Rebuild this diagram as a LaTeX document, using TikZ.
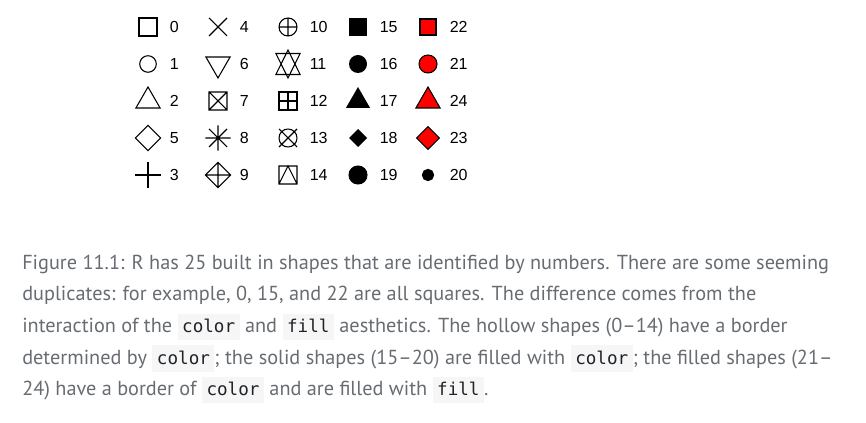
\documentclass[tikz,border=0pt]{standalone}
\usepackage{fontspec}
\usepackage{xcolor}
\usepackage{tikz}
\newfontfamily\labelfont{Liberation Sans}
\newfontfamily\capfont{PT Sans}
\newfontfamily\codefont{DejaVu Sans Mono}
\definecolor{captiongrey}{HTML}{676C72}
\definecolor{codebg}{HTML}{F6F6F6}
\definecolor{codeink}{HTML}{1F2328}
\definecolor{pchred}{HTML}{FF0000}

% inline code chip of the caption
\newcommand{\codebit}[1]{{\setlength{\fboxsep}{0pt}\colorbox{codebg}{\rule[-5.9pt]{0pt}{20pt}\hspace{3.4pt}{\codefont\fontsize{13.2}{13.2}\selectfont\color{codeink}#1}\hspace{3.4pt}}}}

\tikzset{
  pchline/.style={draw=black, line width=0.8pt},
  pchlabel/.style={anchor=west, inner sep=0pt, font=\fontsize{12}{12}\selectfont\labelfont},
  capline/.style={anchor=base west, inner sep=0pt, text=captiongrey, font=\fontsize{15.2}{15.2}\selectfont\capfont},
  % hollow shapes
  pch0/.pic={\draw[pchline] (-9,-9) rectangle (9,9);},
  pch1/.pic={\draw[pchline] (0,0) circle (8.3);},
  pch2/.pic={\draw[pchline] (0,-14) -- (12.1,7) -- (-12.1,7) -- cycle;},
  pch3/.pic={\draw[pchline] (-12.7,0) -- (12.7,0) (0,-12.7) -- (0,12.7);},
  pch4/.pic={\draw[pchline] (-9,-9) -- (9,9) (-9,9) -- (9,-9);},
  pch5/.pic={\draw[pchline] (-12.7,0) -- (0,-12.7) -- (12.7,0) -- (0,12.7) -- cycle;},
  pch6/.pic={\draw[pchline] (0,14) -- (12.1,-7) -- (-12.1,-7) -- cycle;},
  pch7/.pic={\draw[pchline] (-9,-9) rectangle (9,9) (-9,-9) -- (9,9) (-9,9) -- (9,-9);},
  pch8/.pic={\draw[pchline] (-9,-9) -- (9,9) (-9,9) -- (9,-9) (-12.7,0) -- (12.7,0) (0,-12.7) -- (0,12.7);},
  pch9/.pic={\draw[pchline] (-12.7,0) -- (0,-12.7) -- (12.7,0) -- (0,12.7) -- cycle (-12.7,0) -- (12.7,0) (0,-12.7) -- (0,12.7);},
  pch10/.pic={\draw[pchline] (0,0) circle (9) (-9,0) -- (9,0) (0,-9) -- (0,9);},
  pch11/.pic={\draw[pchline] (0,14) -- (12.1,-10.5) -- (-12.1,-10.5) -- cycle (0,-14) -- (12.1,10.5) -- (-12.1,10.5) -- cycle;},
  pch12/.pic={\draw[pchline] (-9,-9) rectangle (9,9) (-9,0) -- (9,0) (0,-9) -- (0,9);},
  pch13/.pic={\draw[pchline] (0,0) circle (9) (-9,-9) -- (9,9) (-9,9) -- (9,-9);},
  pch14/.pic={\draw[pchline] (-9,-9) rectangle (9,9) (-9,9) -- (0,-9) -- (9,9);},
  % solid shapes
  pch15/.pic={\fill (-9,-9) rectangle (9,9);},
  pch16/.pic={\fill (0,0) circle (9);},
  pch17/.pic={\fill (0,-14) -- (12.1,7) -- (-12.1,7) -- cycle;},
  pch18/.pic={\fill (-9,0) -- (0,-9) -- (9,0) -- (0,9) -- cycle;},
  pch19/.pic={\filldraw[pchline] (0,0) circle (9);},
  pch20/.pic={\filldraw[pchline] (0,0) circle (5.6);},
  % filled shapes
  pch21/.pic={\draw[pchline, fill=pchred] (0,0) circle (9);},
  pch22/.pic={\draw[pchline, fill=pchred] (-8,-8) rectangle (8,8);},
  pch23/.pic={\draw[pchline, fill=pchred] (-11.3,0) -- (0,-11.3) -- (11.3,0) -- (0,11.3) -- cycle;},
  pch24/.pic={\draw[pchline, fill=pchred] (0,-14) -- (12.1,7) -- (-12.1,7) -- cycle;},
}

\begin{document}
\begin{tikzpicture}[x=0.75pt, y=-0.75pt]
  \useasboundingbox (0,0) rectangle (866,423);

  % first column
  \pic at (148,27) {pch0};   \node[pchlabel] (lab0) at (169.5,27) {0};
  \pic at (148,64) {pch1};   \node[pchlabel] (lab1) at (169.5,64) {1};
  \pic at (148,101) {pch2};  \node[pchlabel] (lab2) at (169.5,101) {2};
  \pic at (148,138) {pch5};  \node[pchlabel] (lab5) at (169.5,138) {5};
  \pic at (148,175) {pch3};  \node[pchlabel] (lab3) at (169.5,175) {3};

  % second column
  \pic at (218,27) {pch4};   \node[pchlabel] (lab4) at (239.5,27) {4};
  \pic at (218,64) {pch6};   \node[pchlabel] (lab6) at (239.5,64) {6};
  \pic at (218,101) {pch7};  \node[pchlabel] (lab7) at (239.5,101) {7};
  \pic at (218,138) {pch8};  \node[pchlabel] (lab8) at (239.5,138) {8};
  \pic at (218,175) {pch9};  \node[pchlabel] (lab9) at (239.5,175) {9};

  % third column
  \pic at (288,27) {pch10};  \node[pchlabel] (lab10) at (309.5,27) {10};
  \pic at (288,64) {pch11};  \node[pchlabel] (lab11) at (309.5,64) {11};
  \pic at (288,101) {pch12}; \node[pchlabel] (lab12) at (309.5,101) {12};
  \pic at (288,138) {pch13}; \node[pchlabel] (lab13) at (309.5,138) {13};
  \pic at (288,175) {pch14}; \node[pchlabel] (lab14) at (309.5,175) {14};

  % fourth column
  \pic at (358,27) {pch15};  \node[pchlabel] (lab15) at (379.5,27) {15};
  \pic at (358,64) {pch16};  \node[pchlabel] (lab16) at (379.5,64) {16};
  \pic at (358,101) {pch17}; \node[pchlabel] (lab17) at (379.5,101) {17};
  \pic at (358,138) {pch18}; \node[pchlabel] (lab18) at (379.5,138) {18};
  \pic at (358,175) {pch19}; \node[pchlabel] (lab19) at (379.5,175) {19};

  % fifth column
  \pic at (428,27) {pch22};  \node[pchlabel] (lab22) at (449.5,27) {22};
  \pic at (428,64) {pch21};  \node[pchlabel] (lab21) at (449.5,64) {21};
  \pic at (428,101) {pch24}; \node[pchlabel] (lab24) at (449.5,101) {24};
  \pic at (428,138) {pch23}; \node[pchlabel] (lab23) at (449.5,138) {23};
  \pic at (428,175) {pch20}; \node[pchlabel] (lab20) at (449.5,175) {20};

  % caption, one node per line
  \node[capline] (cap1) at (22,269.5) {Figure 11.1: R has 25 built in shapes that are identified by numbers. There are some seeming};
  \node[capline] (cap2) at (22,301) {duplicates: for example, 0, 15, and 22 are all squares. The difference comes from the};
  \node[capline] (cap3) at (22,332.5) {interaction of the \codebit{color} and \codebit{fill} aesthetics. The hollow shapes (0–14) have a border};
  \node[capline] (cap4) at (22,364) {determined by \codebit{color}; the solid shapes (15–20) are filled with \codebit{color}; the filled shapes (21–};
  \node[capline] (cap5) at (22,395.5) {24) have a border of \codebit{color} and are filled with \codebit{fill}.};
\end{tikzpicture}
\end{document}
